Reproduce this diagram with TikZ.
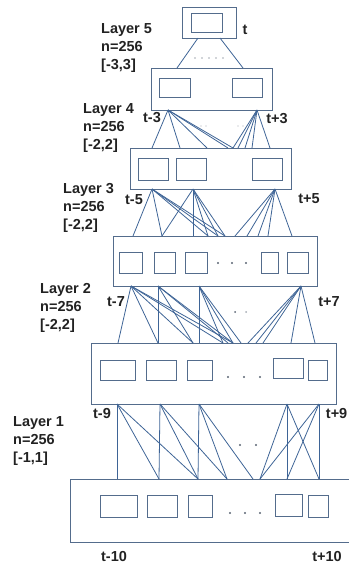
\documentclass[tikz,border=0pt]{standalone}
\usepackage{fontspec}
\setmainfont{Liberation Sans}
\definecolor{boxc}{RGB}{84,108,140}
\definecolor{linkc}{RGB}{62,100,150}
\definecolor{txtc}{RGB}{34,34,34}
\definecolor{dotc}{RGB}{90,100,115}
\begin{document}
\begin{tikzpicture}[x=1pt,y=-1pt,
  layerbox/.style={draw=boxc, line width=0.9pt, inner sep=0pt, fill=none},
  cell/.style={draw=boxc, line width=0.9pt, inner sep=0pt},
  link/.style={draw=linkc, line width=0.8pt},
  lbl/.style={font=\fontsize{14.5}{18}\selectfont\bfseries, align=left, anchor=north west, inner sep=0pt, text=txtc},
  tlbl/.style={font=\fontsize{14.5}{17}\selectfont\bfseries, inner sep=0pt, text=txtc},
  gapdot/.style={fill=dotc, draw=none},
  faintdot/.style={fill=dotc!55, draw=none}
]
\useasboundingbox (0,0) rectangle (348,567);

% ---------- layer frames ----------
\node[layerbox, minimum width=54pt,  minimum height=31pt] (L5) at (209,22.5) {};
\node[layerbox, minimum width=121pt, minimum height=42pt] (L4) at (211.5,89) {};
\node[layerbox, minimum width=161pt, minimum height=41pt] (L3) at (210.5,168.5) {};
\node[layerbox, minimum width=204pt, minimum height=50pt] (L2) at (215,261) {};
\node[layerbox, minimum width=245pt, minimum height=61pt] (L1) at (213.5,373.5) {};
\node[layerbox, minimum width=290pt, minimum height=63pt] (L0) at (215,510.5) {};

% ---------- units inside each layer ----------
\node[cell, minimum width=31pt, minimum height=19pt] (c5a) at (206.5,22.5) {};

\node[cell, minimum width=31pt, minimum height=19pt] (c4a) at (174.5,87.5) {};
\node[cell, minimum width=30pt, minimum height=19pt] (c4b) at (247,87.5) {};

\node[cell, minimum width=30pt, minimum height=22pt] (c3a) at (153,169) {};
\node[cell, minimum width=30pt, minimum height=22pt] (c3b) at (191,169) {};
\node[cell, minimum width=30pt, minimum height=22pt] (c3c) at (267,169) {};

\node[cell, minimum width=23pt, minimum height=21pt] (c2a) at (130.5,262.5) {};
\node[cell, minimum width=21pt, minimum height=21pt] (c2b) at (164.5,262.5) {};
\node[cell, minimum width=22pt, minimum height=21pt] (c2c) at (196,262.5) {};
\node[cell, minimum width=17pt, minimum height=21pt] (c2d) at (269.5,262.5) {};
\node[cell, minimum width=21pt, minimum height=21pt] (c2e) at (297.5,262.5) {};
\foreach \x in {218,232,246} \fill[gapdot] (\x,263) circle (1.1pt);

\node[cell, minimum width=35pt, minimum height=20pt] (c1a) at (117.5,370) {};
\node[cell, minimum width=30pt, minimum height=20pt] (c1b) at (161,370) {};
\node[cell, minimum width=25pt, minimum height=20pt] (c1c) at (199.5,370) {};
\node[cell, minimum width=30pt, minimum height=20pt] (c1d) at (288,368.5) {};
\node[cell, minimum width=19pt, minimum height=20pt] (c1e) at (317.5,370) {};
\foreach \x in {228,244,260} \fill[gapdot] (\x,377) circle (1.1pt);

\node[cell, minimum width=37pt, minimum height=22pt] (c0a) at (118.5,506) {};
\node[cell, minimum width=30pt, minimum height=22pt] (c0b) at (162,506) {};
\node[cell, minimum width=24pt, minimum height=22pt] (c0c) at (200,506) {};
\node[cell, minimum width=27pt, minimum height=22pt] (c0d) at (288.5,505) {};
\node[cell, minimum width=20pt, minimum height=22pt] (c0e) at (318,506) {};
\foreach \x in {230,245,260} \fill[gapdot] (\x,513) circle (1.1pt);

% ---------- attachment points ----------
\coordinate (s5a) at (198,38);   \coordinate (s5b) at (220,38);
\coordinate (d4a) at (177,68);   \coordinate (d4b) at (243,68);

\coordinate (s4a) at (168,110);  \coordinate (s4b) at (257,110);
\foreach \n/\x in {1/152,2/180,3/207,4/228,5/233,6/238,7/245,8/252,9/270}
  \coordinate (d3\n) at (\x,148);

\coordinate (s3a) at (152,189);  \coordinate (s3b) at (193,189);  \coordinate (s3c) at (275,189);
\foreach \n/\x in {1/133,2/162,3/193,4/208,5/218,6/225,7/235,8/247,9/258,10/268,11/292}
  \coordinate (d2\n) at (\x,236);

\coordinate (s2a) at (131,286);  \coordinate (s2b) at (158,286);
\coordinate (s2c) at (199,286);  \coordinate (s2d) at (301,286);
\foreach \n/\x in {1/118,2/158,3/193,4/199,5/223,6/228,7/233,8/241,9/248,10/256,11/263,12/291,13/315}
  \coordinate (d1\n) at (\x,343);

\coordinate (s1a) at (117,404);  \coordinate (s1b) at (160,404);  \coordinate (s1c) at (199,404);
\coordinate (s1d) at (287,404);  \coordinate (s1e) at (319,404);
\foreach \n/\x in {1/117,2/159,3/198,4/227,5/253,6/260,7/287,8/319}
  \coordinate (d0\n) at (\x,479);

% ---------- connections ----------
\draw[link] (s5a) -- (d4a);
\draw[link] (s5b) -- (d4b);

\foreach \t in {1,2,3,4,5} \draw[link] (s4a) -- (d3\t);
\foreach \t in {5,6,7,8,9} \draw[link] (s4b) -- (d3\t);

\foreach \t in {1,2,4,5,6} \draw[link] (s3a) -- (d2\t);
\foreach \t in {2,3,4,5,6} \draw[link] (s3b) -- (d2\t);
\foreach \t in {7,8,9,10,11} \draw[link] (s3c) -- (d2\t);

\foreach \t in {1,2,3,5,7} \draw[link] (s2a) -- (d1\t);
\foreach \t in {2,3,6,7} \draw[link] (s2b) -- (d1\t);
\foreach \t in {4,5,7,8} \draw[link] (s2c) -- (d1\t);
\foreach \t in {9,10,11,12,13} \draw[link] (s2d) -- (d1\t);

\foreach \t in {1,2,3} \draw[link] (s1a) -- (d0\t);
\foreach \t in {2,3,4} \draw[link] (s1b) -- (d0\t);
\foreach \t in {3,4,5} \draw[link] (s1c) -- (d0\t);
\foreach \t in {6,7,8} \draw[link] (s1d) -- (d0\t);
\foreach \t in {6,7,8} \draw[link] (s1e) -- (d0\t);

% ---------- gap markers between layers ----------
\foreach \x in {195,202,209,216,223} \fill[faintdot] (\x,58) circle (0.8pt);
\foreach \x in {201,206,238,243} \fill[faintdot] (\x,126) circle (0.6pt);
\fill[gapdot] (235,312) circle (1pt);
\fill[faintdot] (246,312) circle (1pt);
\fill[gapdot] (240,445) circle (1.1pt);
\fill[gapdot] (256,445) circle (1.1pt);

% ---------- layer descriptions ----------
\node[lbl] (n5) at (101,23.5) {Layer 5\\n=256\\[0pt][-3,3]};
\node[lbl] (n4) at (83,103.5) {Layer 4\\n=256\\[0pt][-2,2]};
\node[lbl] (n3) at (63,183.5) {Layer 3\\n=256\\[0pt][-2,2]};
\node[lbl] (n2) at (40,283.5) {Layer 2\\n=256\\[0pt][-2,2]};
\node[lbl] (n1) at (13,416) {Layer 1\\n=256\\[0pt][-1,1]};

% ---------- time offsets ----------
\node[tlbl] (t0)  at (245,30)  {t};
\node[tlbl] (tm3) at (152,118) {t-3};
\node[tlbl] (tp3) at (277,119) {t+3};
\node[tlbl] (tm5) at (134,200) {t-5};
\node[tlbl] (tp5) at (309,199) {t+5};
\node[tlbl] (tm7) at (116,302) {t-7};
\node[tlbl] (tp7) at (329,302) {t+7};
\node[tlbl] (tm9) at (102,414) {t-9};
\node[tlbl, anchor=east] (tp9) at (347.5,414) {t+9};
\node[tlbl] (tm10) at (114,557) {t-10};
\node[tlbl] (tp10) at (327,557) {t+10};
\end{tikzpicture}
\end{document}
